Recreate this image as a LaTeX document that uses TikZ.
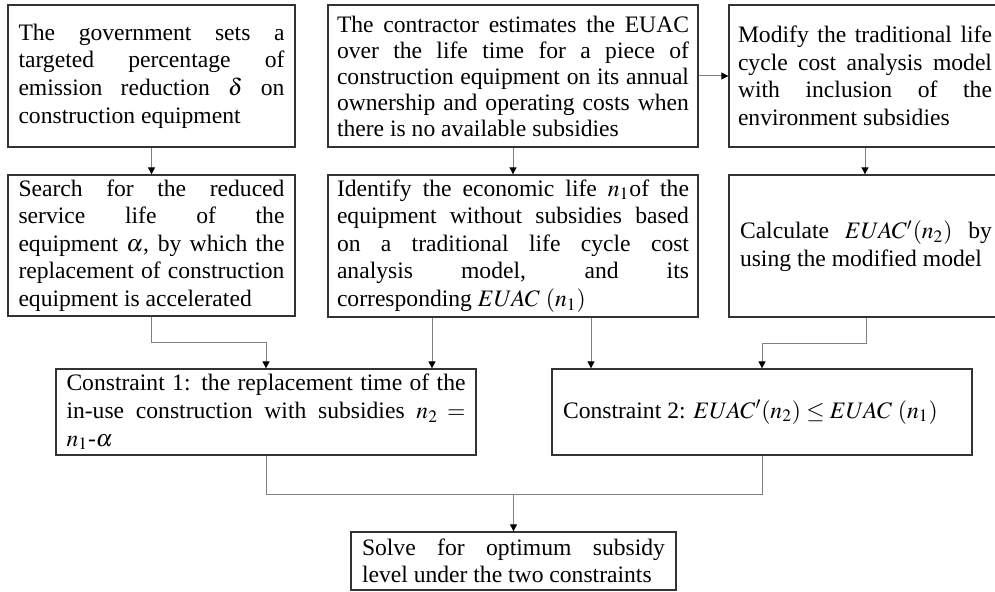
\documentclass[tikz,border=0pt]{standalone}
\usepackage{mathptmx}
\usepackage[no-math]{fontspec}
\setmainfont{Liberation Serif}
\usetikzlibrary{arrows.meta}
\hbadness=10000
\tikzset{
  stepbox/.style={draw=black!80, line width=0.65pt, align=justify, inner ysep=2pt,
    font=\fontsize{11.8}{13.8}\selectfont},
  flow/.style={draw=black!50, line width=0.5pt, -{Triangle[length=3.5pt,width=3.5pt,black]}},
  link/.style={draw=black!50, line width=0.5pt}
}

\begin{document}
\begin{tikzpicture}[x=0.5pt,y=-0.5pt]
\useasboundingbox (0,0) rectangle (995,592);
\node[stepbox, text width=133pt, inner xsep=5.25pt, minimum height=71pt] (gov) at (151.5,76)
  {The government sets a\linebreak targeted percentage of\linebreak emission reduction $\delta$ on\linebreak construction equipment};
\node[stepbox, text width=176pt, inner xsep=4.5pt, minimum height=71pt, font=\fontsize{11.8}{13}\selectfont] (est) at (513,76)
  {The contractor estimates the EUAC\linebreak over the life time for a piece of\linebreak construction equipment on its annual\linebreak ownership and operating costs when\linebreak there is no available subsidies};
\node[stepbox, text width=127pt, inner xsep=4.5pt, minimum height=71pt] (mod) at (865,76)
  {Modify the traditional life\linebreak cycle cost analysis model\linebreak with inclusion of the\linebreak environment subsidies};

\node[stepbox, text width=133pt, inner xsep=5.25pt, minimum height=70.5pt] (search) at (151.5,245.5)
  {Search for the reduced\linebreak service life of the\linebreak equipment $\alpha$, by which the\linebreak replacement of construction\linebreak equipment is accelerated};
\node[stepbox, text width=176pt, inner xsep=4.5pt, minimum height=71pt] (iden) at (513,246)
  {Identify the economic life $n_1$of the\linebreak equipment without subsidies based\linebreak on a traditional life cycle cost\linebreak analysis model, and its\linebreak corresponding $EUAC\ (n_1)$};
\node[stepbox, text width=126pt, inner xsep=5.5pt, minimum height=71pt] (cal) at (866,246)
  {Calculate $EUAC^{\prime}(n_2)$ by\linebreak using the modified model};

\node[stepbox, text width=199.5pt, inner xsep=5.25pt, minimum height=43pt] (con1) at (266,412)
  {Constraint 1: the replacement time of the\linebreak in-use construction with subsidies $n_2 =$\linebreak $n_1$-$\alpha$};
\node[stepbox, text width=199pt, inner xsep=5.5pt, minimum height=43pt] (con2) at (762,412)
  {Constraint 2: $EUAC^{\prime}(n_2) \le EUAC\ (n_1)$};

\node[stepbox, text width=151.5pt, inner xsep=5.5pt, minimum height=29pt] (solve) at (513.5,561)
  {Solve for optimum subsidy\linebreak level under the two constraints};

\draw[flow] (gov.south) -- (search.north);
\draw[flow] (est.south) -- (iden.north);
\draw[flow] (est.east) -- (mod.west);
\draw[flow] (mod.south) -- (mod.south |- cal.north);
\draw[flow] (search.south) -- ++(0,26) -| (con1.north);
\draw[flow] ([xshift=-40.5pt]iden.south) -- ([xshift=-40.5pt]iden.south |- con1.north);
\draw[flow] ([xshift=39pt]iden.south) -- ([xshift=39pt]iden.south |- con2.north);
\draw[flow] (cal.south) -- ++(0,26) -| (con2.north);
\draw[link] (con1.south) -- ++(0,39) coordinate (jn) -| (con2.south);
\draw[flow] (jn -| solve.north) -- (solve.north);
\end{tikzpicture}
\end{document}
